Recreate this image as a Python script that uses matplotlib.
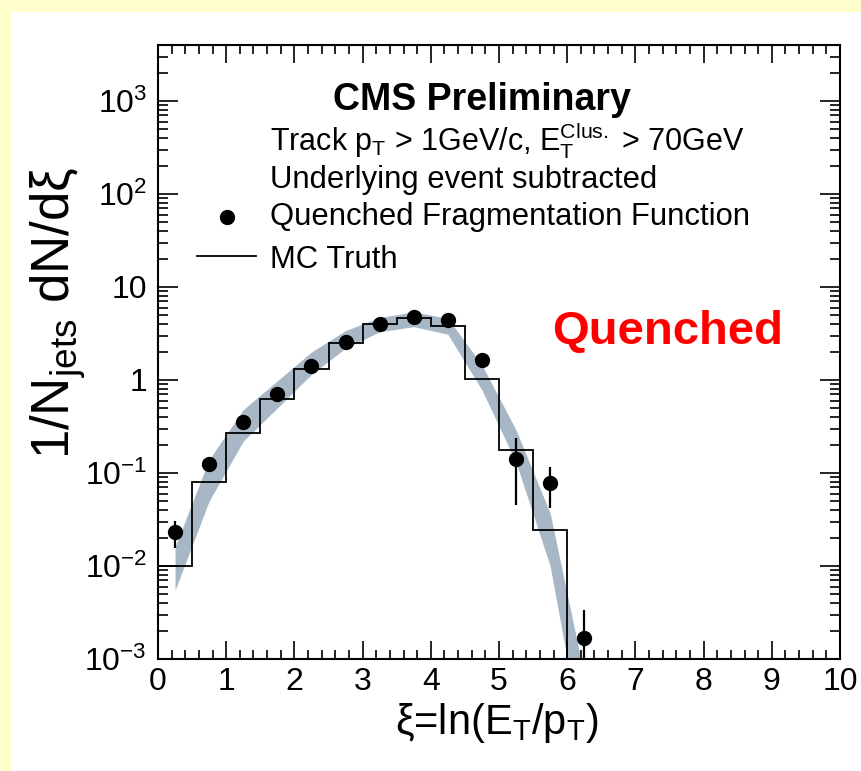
import matplotlib
matplotlib.use("Agg")
import matplotlib.pyplot as plt
from matplotlib.patches import Rectangle
from matplotlib.lines import Line2D
from matplotlib.ticker import MultipleLocator, LogLocator, NullFormatter

plt.rcParams["font.family"] = ["Liberation Sans", "DejaVu Sans"]
plt.rcParams["mathtext.fontset"] = "custom"
plt.rcParams["mathtext.rm"] = "Liberation Sans"
plt.rcParams["mathtext.it"] = "Liberation Sans:italic"
plt.rcParams["mathtext.bf"] = "Liberation Sans:bold"

# =========================
# DATA
# =========================
# quenched fragmentation function, bin centres
xi = [0.25, 0.75, 1.25, 1.75, 2.25, 2.75, 3.25, 3.75, 4.25, 4.75, 5.25, 5.75, 6.25]
ff = [0.023, 0.124, 0.35, 0.71, 1.41, 2.54, 4.0, 4.72, 4.42, 1.64, 0.14, 0.079, 0.0017]
ff_err = [0.0075, 0.006, 0.012, 0.02, 0.03, 0.05, 0.06, 0.07, 0.08, 0.12, 0.095, 0.037, 0.00169]

# MC truth histogram
mc_edges = [0.0, 0.5, 1.0, 1.5, 2.0, 2.5, 3.0, 3.5, 4.0, 4.5, 5.0, 5.5, 6.0]
mc_truth = [0.01, 0.0805, 0.271, 0.62, 1.31, 2.52, 3.97, 4.61, 3.84, 1.03, 0.177, 0.0244]

# systematic band
band_x = [0.25, 0.75, 1.25, 1.75, 2.25, 2.75, 3.25, 3.75, 4.25, 4.75, 5.25, 5.75, 6.25]
band_lo = [0.0055, 0.05, 0.22, 0.5, 1.15, 2.2, 3.3, 3.75, 3.1, 0.78, 0.13, 0.01, 0.0001]
band_hi = [0.016, 0.14, 0.48, 0.98, 2.0, 3.4, 4.7, 5.4, 4.6, 1.45, 0.29, 0.037, 0.00067]

ytick_vals = [1e-3, 1e-2, 1e-1, 1, 10, 1e2, 1e3]
ytick_labels = [r"$10^{-3}$", r"$10^{-2}$", r"$10^{-1}$", "1", "10", r"$10^{2}$", r"$10^{3}$"]
xtick_vals = list(range(0, 11))

W, H = 861, 771


def fx(px):
    return px / W


def fy(py):
    return 1 - py / H


fig = plt.figure(figsize=(W / 100, H / 100), dpi=100)
fig.patch.set_facecolor("#FFFFCC")
fig.patches.append(Rectangle((fx(11), 0), 1, fy(12), transform=fig.transFigure,
                             facecolor="white", edgecolor="none", zorder=-10))

ax = fig.add_axes([fx(158), fy(659), (840 - 158) / W, (659 - 45) / H])
ax.set_yscale("log")

ax.fill_between(band_x, band_lo, band_hi, color="#a7b7c6", lw=0, zorder=1)
ax.stairs(mc_truth, mc_edges, baseline=None, color="black", lw=1.3, zorder=2)
ax.plot([mc_edges[-1], mc_edges[-1]], [mc_truth[-1], 1e-4], color="black", lw=1.3, zorder=2)
ax.errorbar(xi, ff, yerr=ff_err, fmt="o", color="black", ms=10, elinewidth=1.6,
            capsize=0, zorder=3)

ax.set_xlim(0, 10)
ax.set_ylim(1e-3, 4000)

ax.set_xticks(xtick_vals)
ax.set_xticklabels([str(v) for v in xtick_vals])
ax.xaxis.set_minor_locator(MultipleLocator(0.2))
ax.set_yticks(ytick_vals)
ax.set_yticklabels(ytick_labels)
ax.yaxis.set_minor_locator(LogLocator(base=10, subs=range(2, 10), numticks=30))
ax.yaxis.set_minor_formatter(NullFormatter())

ax.tick_params(which="both", direction="in", top=True, right=True, width=1.2, labelsize=23)
ax.tick_params(axis="x", which="major", length=13, pad=6)
ax.tick_params(axis="x", which="minor", length=6.5)
ax.tick_params(axis="y", which="major", length=14.5, pad=8)
ax.tick_params(axis="y", which="minor", length=7)
for sp in ax.spines.values():
    sp.set_linewidth(1.5)

# axis titles
fig.text(fx(497), fy(723), r"ξ=ln(E$_{\rm T}$/p$_{\rm T}$)", fontsize=30,
         ha="center", va="center")
fig.text(fx(58), fy(313), r"1/N$_{\rm jets}$ dN/dξ", fontsize=38, rotation=90,
         ha="center", va="center")

# annotations
fig.text(fx(482), fy(100), "CMS Preliminary", fontsize=27, fontweight="bold",
         ha="center", va="center")
fig.text(fx(270), fy(141), r"Track p$_{\rm T}$ > 1GeV/c, E$_{\rm T}^{\rm Clus.}$ > 70GeV",
         fontsize=22, ha="left", va="center")
fig.text(fx(270), fy(180), "Underlying event subtracted", fontsize=22.3,
         ha="left", va="center")
fig.text(fx(270), fy(217), "Quenched Fragmentation Function", fontsize=22.3,
         ha="left", va="center")
fig.text(fx(270), fy(260), "MC Truth", fontsize=22.3, ha="left", va="center")
fig.lines.append(Line2D([fx(227)], [fy(217)], marker="o", ms=10, color="black",
                        transform=fig.transFigure))
fig.lines.append(Line2D([fx(197), fx(256)], [fy(256), fy(256)], lw=1.3, color="black",
                        transform=fig.transFigure))
fig.text(fx(552), fy(332), "Quenched", fontsize=34, fontweight="bold", color="red",
         ha="left", va="center")

fig.savefig("out.png", dpi=100, facecolor=fig.get_facecolor())
